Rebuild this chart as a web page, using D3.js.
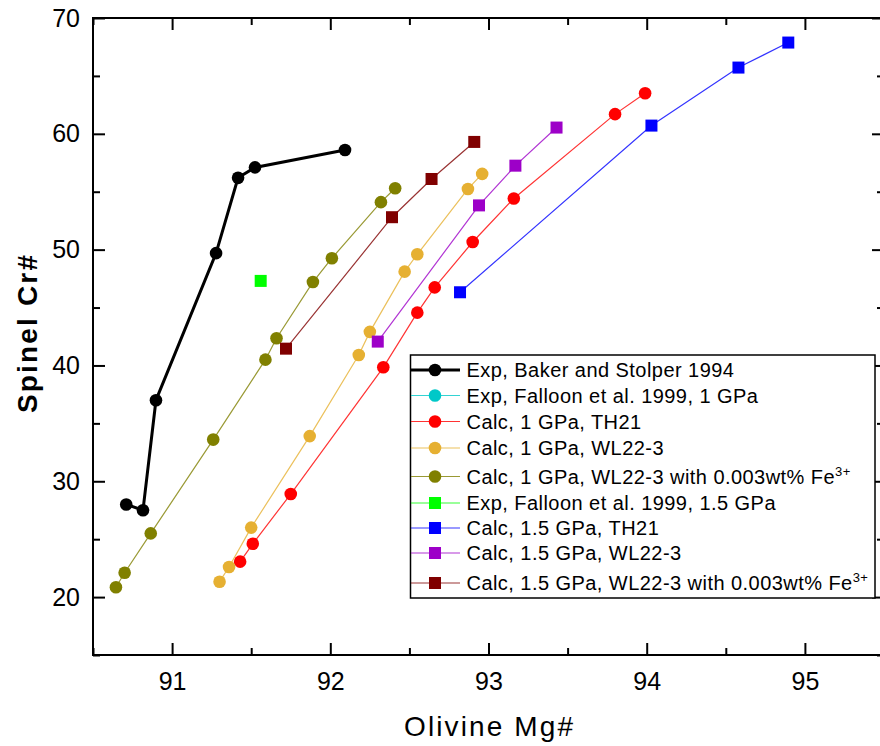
<!DOCTYPE html>
<html>
<head>
<meta charset="utf-8">
<script src="https://cdn.jsdelivr.net/npm/d3@7"></script>
<style>
body { margin: 0; background: #fff; }
svg { display: block; font-family: "Liberation Sans", Arial, sans-serif; }
</style>
</head>
<body>
<svg width="880" height="746"></svg>
<script>
// data: [olivine Mg#, spinel Cr#]
const expBaker = [[90.71, 28.0], [90.816, 27.5], [90.898, 37.0], [91.278, 49.7], [91.417, 56.2], [91.524, 57.1], [92.093, 58.6]];
const expFalloon1 = [];
const calc1TH21 = [[91.43, 23.06], [91.51, 24.6], [91.75, 28.9], [92.335, 39.84], [92.55, 44.56], [92.66, 46.74], [92.90, 50.66], [93.16, 54.42], [93.80, 61.7], [93.99, 63.5]];
const calc1WL = [[91.30, 21.33], [91.36, 22.6], [91.50, 26.0], [91.87, 33.9], [92.18, 40.9], [92.25, 42.9], [92.47, 48.1], [92.55, 49.6], [92.87, 55.24], [92.96, 56.54]];
const calc1WLFe = [[90.645, 20.85], [90.70, 22.1], [90.865, 25.5], [91.26, 33.6], [91.59, 40.5], [91.66, 42.35], [91.89, 47.2], [92.01, 49.26], [92.32, 54.1], [92.41, 55.3]];
const expFalloon15 = [[91.56, 47.3]];
const calc15TH21 = [[92.82, 46.32], [94.03, 60.71], [94.58, 65.72], [94.895, 67.88]];
const calc15WL = [[92.30, 42.06], [92.94, 53.82], [93.17, 57.25], [93.43, 60.54]];
const calc15WLFe = [[91.72, 41.45], [92.39, 52.8], [92.64, 56.1], [92.91, 59.3]];

const legendNames = [
  "Exp, Baker and Stolper 1994",
  "Exp, Falloon et al. 1999, 1 GPa",
  "Calc, 1 GPa, TH21",
  "Calc, 1 GPa, WL22-3",
  "Calc, 1 GPa, WL22-3 with 0.003wt% Fe",
  "Exp, Falloon et al. 1999, 1.5 GPa",
  "Calc, 1.5 GPa, TH21",
  "Calc, 1.5 GPa, WL22-3",
  "Calc, 1.5 GPa, WL22-3 with 0.003wt% Fe"
];
const xTicks = [91, 92, 93, 94, 95];
const yTicks = [20, 30, 40, 50, 60, 70];

const series = [
  { name: legendNames[0], data: expBaker, color: "#000000", shape: "circle", lw: 3, sup: false },
  { name: legendNames[1], data: expFalloon1, color: "#00c8c8", shape: "circle", lw: 1.2, sup: false },
  { name: legendNames[2], data: calc1TH21, color: "#ff0000", shape: "circle", lw: 1.2, sup: false },
  { name: legendNames[3], data: calc1WL, color: "#e6b032", shape: "circle", lw: 1.2, sup: false },
  { name: legendNames[4], data: calc1WLFe, color: "#808000", shape: "circle", lw: 1.2, sup: true },
  { name: legendNames[5], data: expFalloon15, color: "#00ff00", shape: "square", lw: 1.2, sup: false },
  { name: legendNames[6], data: calc15TH21, color: "#0000ff", shape: "square", lw: 1.2, sup: false },
  { name: legendNames[7], data: calc15WL, color: "#9d00c8", shape: "square", lw: 1.2, sup: false },
  { name: legendNames[8], data: calc15WLFe, color: "#800000", shape: "square", lw: 1.2, sup: true }
];

const svg = d3.select('svg');
const mLeft = 93, mRight = 884, mTop = 18, mBottom = 655;

const x = d3.scaleLinear().domain([90.5, 95.5]).range([mLeft, mRight]);
const y = d3.scaleLinear().domain([15, 70]).range([mBottom, mTop]);

const xMinor = d3.range(90.5, 95.51, 0.5).filter(v => !xTicks.includes(v));
const yMinor = d3.range(15, 70.1, 5).filter(v => !yTicks.includes(v));

function styleAxis(g) {
  g.select('.domain').remove();
  g.selectAll('line').attr('stroke', '#000').attr('stroke-width', 2);
  g.selectAll('text').attr('fill', '#000').style('font-size', '25px')
    .style('font-family', '"Liberation Sans", Arial, sans-serif');
}

// bottom
svg.append('g').attr('transform', `translate(0,${mBottom})`)
  .call(d3.axisBottom(x).tickValues(xTicks).tickSize(-12).tickPadding(17).tickFormat(d3.format('d')))
  .call(styleAxis);
svg.append('g').attr('transform', `translate(0,${mBottom})`)
  .call(d3.axisBottom(x).tickValues(xMinor).tickSize(-7).tickFormat(''))
  .call(styleAxis);
// top
svg.append('g').attr('transform', `translate(0,${mTop})`)
  .call(d3.axisTop(x).tickValues(xTicks).tickSize(-12).tickFormat(''))
  .call(styleAxis);
svg.append('g').attr('transform', `translate(0,${mTop})`)
  .call(d3.axisTop(x).tickValues(xMinor).tickSize(-7).tickFormat(''))
  .call(styleAxis);
// left
svg.append('g').attr('transform', `translate(${mLeft},0)`)
  .call(d3.axisLeft(y).tickValues(yTicks).tickSize(-12).tickPadding(13).tickFormat(d3.format('d')))
  .call(styleAxis);
svg.append('g').attr('transform', `translate(${mLeft},0)`)
  .call(d3.axisLeft(y).tickValues(yMinor).tickSize(-7).tickFormat(''))
  .call(styleAxis);
// right
svg.append('g').attr('transform', `translate(${mRight},0)`)
  .call(d3.axisRight(y).tickValues(yTicks).tickSize(-12).tickFormat(''))
  .call(styleAxis);
svg.append('g').attr('transform', `translate(${mRight},0)`)
  .call(d3.axisRight(y).tickValues(yMinor).tickSize(-7).tickFormat(''))
  .call(styleAxis);

svg.append('rect')
  .attr('x', mLeft).attr('y', mTop)
  .attr('width', mRight - mLeft).attr('height', mBottom - mTop)
  .attr('fill', 'none').attr('stroke', '#000').attr('stroke-width', 2);

// axis titles
svg.append('text')
  .attr('x', (mLeft + mRight) / 2).attr('y', 736)
  .attr('text-anchor', 'middle')
  .attr('textLength', 169).attr('lengthAdjust', 'spacing')
  .style('font-size', '28px')
  .text('Olivine Mg#');

svg.append('text')
  .attr('transform', 'translate(37,334) rotate(-90)')
  .attr('text-anchor', 'middle')
  .attr('textLength', 158).attr('lengthAdjust', 'spacing')
  .style('font-size', '28px').style('font-weight', 'bold')
  .text('Spinel Cr#');

// series
const line = d3.line().x(d => x(d[0])).y(d => y(d[1]));
const plot = svg.append('g');

function drawMarker(g, shape, color, cx, cy) {
  if (shape === 'circle') {
    g.append('circle').attr('cx', cx).attr('cy', cy).attr('r', 6.3).attr('fill', color);
  } else {
    g.append('rect').attr('x', cx - 6).attr('y', cy - 6).attr('width', 12).attr('height', 12).attr('fill', color);
  }
}

series.forEach(s => {
  const g = plot.append('g');
  if (s.data.length > 1) {
    g.append('path')
      .attr('d', line(s.data))
      .attr('fill', 'none')
      .attr('stroke', s.color)
      .attr('stroke-width', s.lw)
      .attr('stroke-opacity', s.lw > 2 ? 1 : 0.8);
  }
  s.data.forEach(d => drawMarker(g, s.shape, s.color, x(d[0]), y(d[1])));
});

// legend
const legendRows = [370, 395.5, 421.5, 448, 476.5, 503, 528, 553, 583];
const leg = svg.append('g');
leg.append('rect')
  .attr('x', 410.5).attr('y', 355)
  .attr('width', 464.5).attr('height', 243)
  .attr('fill', '#fff').attr('stroke', '#000').attr('stroke-width', 1.5);

series.forEach((s, i) => {
  const ry = legendRows[i];
  leg.append('line')
    .attr('x1', 411).attr('x2', 460).attr('y1', ry).attr('y2', ry)
    .attr('stroke', s.color).attr('stroke-width', s.lw > 2 ? 3 : 1.2)
    .attr('stroke-opacity', s.lw > 2 ? 1 : 0.8);
  drawMarker(leg, s.shape, s.color, 435, ry);
  const t = leg.append('text')
    .attr('x', 466.5).attr('y', ry + 7)
    .style('font-size', '20px').style('letter-spacing', '0.45px')
    .text(s.name);
  if (s.sup) {
    t.append('tspan').attr('dy', -8).style('font-size', '13px').text('3+');
  }
});
</script>
</body>
</html>
